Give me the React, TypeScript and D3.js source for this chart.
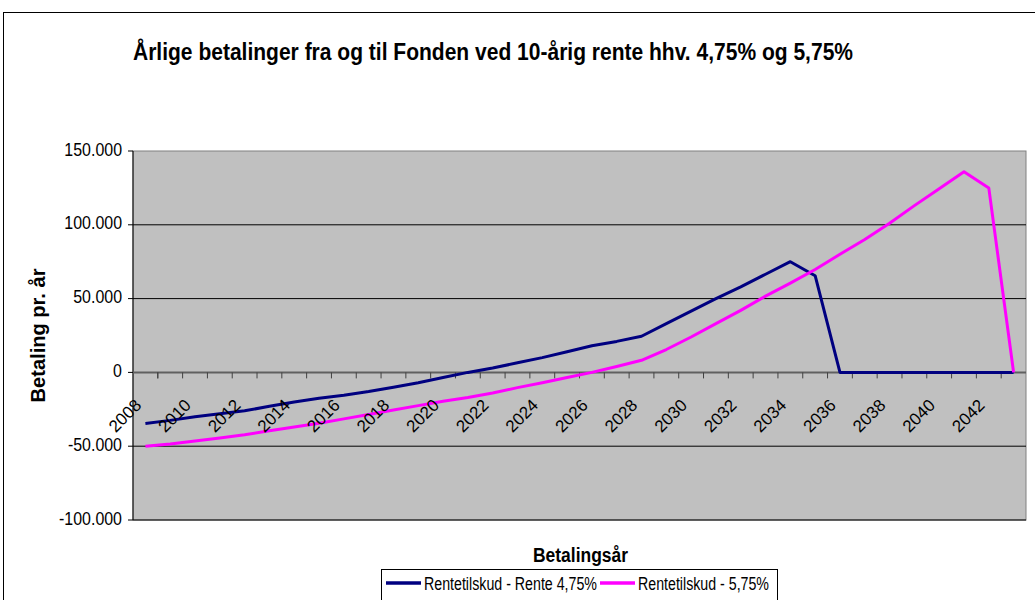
import { useMemo } from "react";
import * as d3 from "d3";

// years on the category axis
const years: string[] = d3.range(2008, 2044).map(String);

// annual payments, rate 4,75%
const rente475: number[] = [
  -34600, -32500, -30000, -28000, -26000, -23000, -20000, -17500, -15500, -13000,
  -10000, -7000, -3500, 0, 3000, 6500, 10000, 14000, 18000, 21000,
  24500, 33000, 41500, 50000, 58000, 66500, 75000, 65500, 0, 0,
  0, 0, 0, 0, 0, 0,
];

// annual payments, rate 5,75%
const rente575: number[] = [
  -50000, -48500, -46500, -44500, -42300, -39500, -37000, -34500, -31500, -28500,
  -25500, -22500, -19500, -17000, -14000, -10300, -7000, -3500, 0, 4000,
  8200, 15500, 24000, 33000, 42000, 51700, 60500, 69700, 80000, 90000,
  101000, 113000, 124500, 136000, 125000, 0,
];

const yTicks: number[] = [-100000, -50000, 0, 50000, 100000, 150000];

const seriesNames = ["Rentetilskud - Rente 4,75%", "Rentetilskud - 5,75%"];
const seriesColors = ["#000080", "#FF00FF"];

const W = 1035;
const H = 600;
const FONT = "Arial, 'Liberation Sans', sans-serif";

const fmt0 = d3
  .formatLocale({ decimal: ",", thousands: ".", grouping: [3], currency: ["", ""] })
  .format(",");
const fmt = (v: number) => fmt0(v).replace("\u2212", "-");

export default function App() {
  const plot = { left: 133, right: 1026, top: 151, bottom: 520 };

  const x = useMemo(
    () => d3.scaleBand<string>().domain(years).range([plot.left, plot.right]).paddingInner(0).paddingOuter(0),
    []
  );
  const y = useMemo(
    () => d3.scaleLinear().domain([-100000, 150000]).range([plot.bottom, plot.top]),
    []
  );
  const cx = (yr: string) => (x(yr) ?? 0) + x.bandwidth() / 2;

  const line = d3
    .line<number>()
    .x((_, i) => cx(years[i]))
    .y((d) => y(d));

  const series = [rente475, rente575];
  const y0 = y(0);

  // the text in the source is narrow: squeeze it horizontally
  const squeeze = 0.84;

  return (
    <svg
      width={W}
      height={H}
      style={{ position: "absolute", left: 0, top: 0, background: "#fff" }}
      fontFamily={FONT}
    >
      {/* chart border */}
      <rect x={3.5} y={12.5} width={W + 10} height={H + 10} fill="#fff" stroke="#000" strokeWidth={1} />

      <text x={133} y={60} fontSize={23} fontWeight="bold" textLength={720} lengthAdjust="spacingAndGlyphs">
        Årlige betalinger fra og til Fonden ved 10-årig rente hhv. 4,75% og 5,75%
      </text>

      {/* plot area */}
      <rect
        x={plot.left}
        y={plot.top}
        width={plot.right - plot.left}
        height={plot.bottom - plot.top}
        fill="#C0C0C0"
        stroke="#808080"
        strokeWidth={1}
      />

      {/* gridlines */}
      {yTicks
        .filter((t) => t !== 0 && t !== 150000)
        .map((t) => (
          <line key={t} x1={plot.left} x2={plot.right} y1={y(t)} y2={y(t)} stroke="#000" strokeWidth={1} />
        ))}

      {/* y axis */}
      <line x1={plot.left} x2={plot.left} y1={plot.top} y2={plot.bottom} stroke="#000" strokeWidth={1} />
      {yTicks.map((t) => (
        <g key={t}>
          <line x1={plot.left - 5} x2={plot.left} y1={y(t)} y2={y(t)} stroke="#000" />
          <g transform={`translate(${plot.left - 11},${y(t) - 2}) scale(${squeeze},1)`}>
            <text dy="0.35em" textAnchor="end" fontSize={19}>
              {fmt(t)}
            </text>
          </g>
        </g>
      ))}

      {/* category axis at zero */}
      <line x1={plot.left} x2={plot.right} y1={y0} y2={y0} stroke="#606060" strokeWidth={2} />
      {years.map((yr, i) => (
        <line
          key={yr}
          x1={(x(yr) ?? 0) + (i === 0 ? x.bandwidth() : 0)}
          x2={(x(yr) ?? 0) + (i === 0 ? x.bandwidth() : 0)}
          y1={y0}
          y2={y0 + 6}
          stroke="#404040"
        />
      ))}

      {/* series */}
      {series.map((s, k) => (
        <path
          key={k}
          d={line(s) ?? ""}
          fill="none"
          stroke={seriesColors[k]}
          strokeWidth={3}
          strokeLinejoin="round"
        />
      ))}

      {/* x labels, every second year */}
      {years
        .filter((_, i) => i % 2 === 0)
        .map((yr) => (
          <text
            key={yr}
            transform={`translate(${cx(yr) - 3},${y0 + 34}) rotate(-45)`}
            textAnchor="end"
            fontSize={17}
          >
            {yr}
          </text>
        ))}

      {/* axis titles */}
      <text
        transform={`translate(45,${(plot.top + plot.bottom) / 2}) rotate(-90)`}
        textAnchor="middle"
        fontSize={19.5}
        fontWeight="bold"
        textLength={134}
        lengthAdjust="spacingAndGlyphs"
      >
        Betaling pr. år
      </text>
      <text x={533} y={562} fontSize={19.5} fontWeight="bold" textLength={95} lengthAdjust="spacingAndGlyphs">
        Betalingsår
      </text>

      {/* legend */}
      <rect x={381.5} y={569.5} width={396} height={40} fill="#fff" stroke="#000" />
      {seriesNames.map((name, k) => {
        const lx = k === 0 ? 386 : 600;
        const tl = k === 0 ? 173 : 131;
        return (
          <g key={name}>
            <line x1={lx} x2={lx + 35} y1={583} y2={583} stroke={seriesColors[k]} strokeWidth={3.5} />
            <text x={lx + 38} y={590} fontSize={17.5} textLength={tl} lengthAdjust="spacingAndGlyphs">
              {name}
            </text>
          </g>
        );
      })}
    </svg>
  );
}
